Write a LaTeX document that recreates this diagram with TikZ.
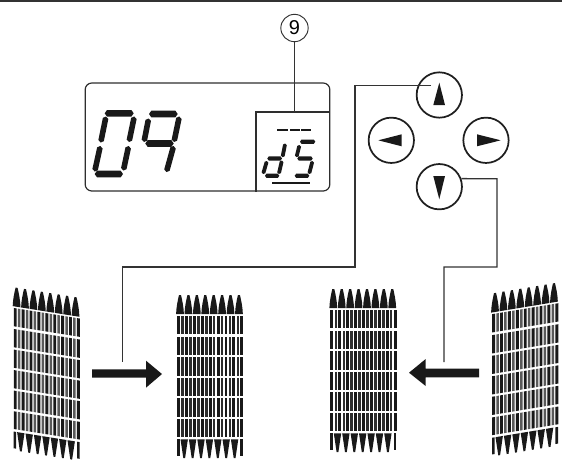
\documentclass[tikz,border=0pt]{standalone}
\usepackage{fontspec}
\setmainfont{Liberation Sans}
\newcommand{\lcdseg}[5]{%
  \pgfmathsetmacro\segL{veclen(#3-#1,#4-#2)}%
  \pgfmathsetmacro\segUx{(#3-#1)/\segL}%
  \pgfmathsetmacro\segUy{(#4-#2)/\segL}%
  \pgfmathsetmacro\segW{#5}%
  \pgfmathsetmacro\segT{#5*0.7}%
  \fill[ink] (#1,#2)
    -- ({#1+\segUx*\segT-\segUy*\segW},{#2+\segUy*\segT+\segUx*\segW})
    -- ({#3-\segUx*\segT-\segUy*\segW},{#4-\segUy*\segT+\segUx*\segW})
    -- (#3,#4)
    -- ({#3-\segUx*\segT+\segUy*\segW},{#4-\segUy*\segT-\segUx*\segW})
    -- ({#1+\segUx*\segT+\segUy*\segW},{#2+\segUy*\segT-\segUx*\segW})
    -- cycle;}
\newcommand{\combbars}[1]{%
  \foreach \yt/\yb in {315.7/334,336.7/355,357.3/375.5,377.8/396,398.3/416.5,419/436.7}{%
    \foreach \k in {0,...,16}{%
      \pgfmathsetmacro\xc{178.6+3.95*\k}%
      \pgfmathparse{int(mod(\k,2))}%
      \ifnum\pgfmathresult=0\relax
        \fill[ink] ({\xc-1.45},\yt) rectangle ({\xc+1.45},\yb);
      \else
        \fill[black!#1] ({\xc-1.25},\yt) rectangle ({\xc+1.25},\yb);
      \fi
    }%
  }%
  \foreach \k in {0,...,7}{%
    \pgfmathsetmacro\xc{180+8.42*\k}%
    \fill[ink] ({\xc-3.9},314) .. controls ({\xc-3.7},307) and ({\xc-2.2},300) .. ({\xc-1},295)
      -- ({\xc+1},295) .. controls ({\xc+2.2},300) and ({\xc+3.7},307) .. ({\xc+3.9},314) -- cycle;
  }%
  \foreach \k in {0,...,6}{%
    \pgfmathsetmacro\xc{184.2+8.4*\k}%
    \fill[ink] ({\xc-3.7},439.3) -- ({\xc+3.7},439.3) -- ({\xc+0.9},458) -- ({\xc-0.9},458) -- cycle;
  }%
  \fill[ink] (177,439.3) rectangle (179.6,456);
  \fill[ink] (240.4,439.3) rectangle (243,456);
}
\tikzset{
  ink/.style={color=black!90},
  wire/.style={draw=black!80,line width=1pt,line join=miter},
  keybtn/.style={circle,draw=black!88,line width=1.3pt,minimum size=34pt,inner sep=0pt},
  thin frame/.style={draw=black!82,line width=0.9pt},
}
\begin{document}
\begin{tikzpicture}[x=0.75pt,y=-0.75pt]
\useasboundingbox (0,0) rectangle (562,462);
\fill[black!80] (0,0) rectangle (562,2);
% display
\node[thin frame,rounded corners=5pt,minimum width=183.5pt,minimum height=81pt,inner sep=0pt] (display) at (207.5,137) {};
\coordinate (panelTL) at (256,112);
\coordinate (panelTR) at (display.east |- panelTL);
\coordinate (panelBL) at (panelTL |- display.south);
\draw[thin frame] (panelBL) -- (panelTL) -- (panelTR);
% ref mark
\node[circle,draw=black!80,line width=0.7pt,minimum size=20.5pt,inner sep=0pt,font=\fontsize{15pt}{16pt}\selectfont] (mark) at (294.5,28) {9};
\coordinate (markfoot) at (mark.south |- panelTL);
\draw[wire] (mark.south) -- (markfoot);
% 0
\lcdseg{104.7}{113.3}{133.7}{113.3}{3.3}
\lcdseg{106}{116.5}{100.7}{142.5}{2.8}
\lcdseg{134.3}{116.5}{129}{142}{2.8}
\lcdseg{100.3}{146}{94.7}{171.5}{2.8}
\lcdseg{128.6}{146}{123.4}{170.5}{2.8}
\lcdseg{94.7}{174}{123}{174}{3.3}
% 9
\lcdseg{149}{114}{177.7}{114}{3.3}
\lcdseg{148.6}{118.5}{144}{142}{2.8}
\lcdseg{179.3}{116.5}{174}{142}{2.8}
\lcdseg{145.3}{143.5}{173.7}{143.5}{3.3}
\lcdseg{173.6}{146}{166.4}{172}{2.8}
% dashes
\fill[ink] (277.3,128.8) rectangle (288,130.6);
\fill[ink] (289.8,128.8) rectangle (300,130.6);
\fill[ink] (301.3,128.8) rectangle (311,130.6);
% d
\lcdseg{285.2}{143.5}{282.5}{157.2}{1.9}
\lcdseg{267.3}{158.5}{282}{158.5}{2.1}
\lcdseg{266.9}{161}{263.1}{174}{1.9}
\lcdseg{281.9}{160.5}{278.8}{174}{1.9}
\lcdseg{265}{175.8}{279.3}{175.8}{2.1}
% S
\lcdseg{300}{141.7}{315.3}{141.7}{2.1}
\lcdseg{299.5}{145}{296.5}{157.2}{1.9}
\lcdseg{297.3}{158.5}{312.7}{158.5}{2.1}
\lcdseg{312.5}{161}{309.1}{174}{1.9}
\lcdseg{294.7}{175.8}{309.3}{175.8}{2.1}
\fill[ink] (271.7,181.5) rectangle (310,184);
% keys
\node[keybtn] (up) at (439.3,95) {};
\node[keybtn] (left) at (391.3,140.3) {};
\node[keybtn] (right) at (486,140.3) {};
\node[keybtn] (down) at (439.3,186.7) {};
\fill[ink] (439.3,82.7) -- (445,105) -- (433.3,105) -- cycle;
\fill[ink] (439.3,199.3) -- (445,176) -- (433.3,176) -- cycle;
\fill[ink] (378.3,140.3) -- (401.7,134.3) -- (401.7,146.3) -- cycle;
\fill[ink] (500.7,140.3) -- (477,134.3) -- (477,146.3) -- cycle;
% connectors
\coordinate (upIn) at (431,85.7);
\coordinate (upA) at (355,85.7);
\coordinate (upB) at (355,267);
\coordinate (upC) at (122.5,267);
\coordinate (upEnd) at (122.5,362);
\draw[wire] (upIn) -- (upA) -- (upB) -- (upC) -- (upEnd);
\coordinate (dnA) at (497,178.7);
\coordinate (dnB) at (497,267);
\coordinate (dnC) at (444,267);
\coordinate (dnEnd) at (444,362);
\draw[wire] (down.20) -- (dnA) -- (dnB) -- (dnC) -- (dnEnd);
% thick arrows
\fill[ink] (92,369.3) -- (146,369.3) -- (146,360.7) -- (162,374) -- (146,387.7) -- (146,377.7) -- (92,377.7) -- cycle;
\fill[ink] (479,368.7) -- (425.7,368.7) -- (425.7,359) -- (409,372.7) -- (425.7,386) -- (425.7,377.3) -- (479,377.3) -- cycle;
% combs
\begin{scope}[shift={(-163.4,{-7.6-0.16*178})},yslant=-0.16]\combbars{65}\end{scope}
\combbars{82}
\begin{scope}[shift={(153.3,-6)}]\combbars{82}\end{scope}
\begin{scope}[shift={(315,{-1.7+0.165*178})},yslant=0.165]\combbars{65}\end{scope}
\end{tikzpicture}
\end{document}
